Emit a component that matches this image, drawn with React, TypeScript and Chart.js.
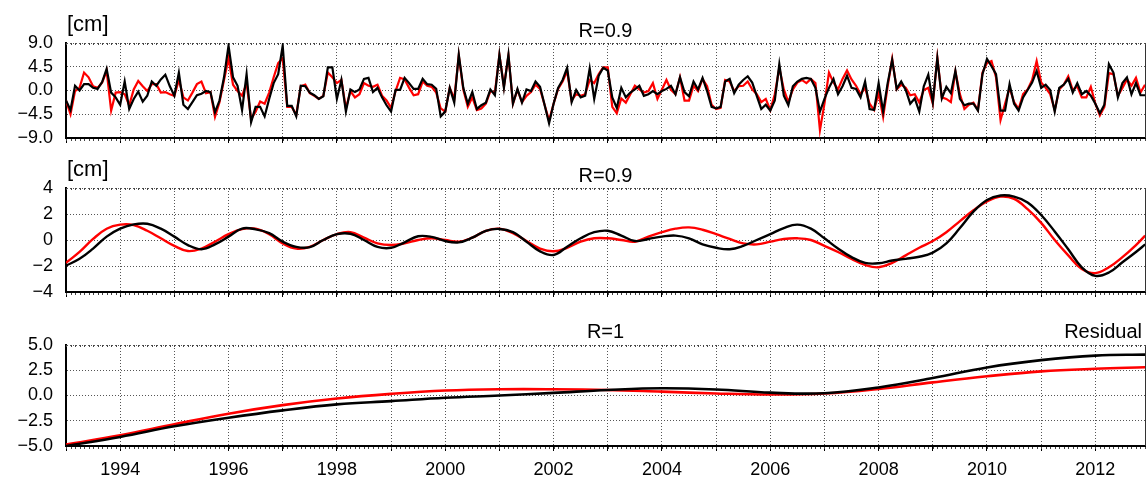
import React, { useEffect, useRef } from 'react';
import { Chart, registerables } from 'chart.js';

Chart.register(...registerables);

const FONT = '"Liberation Sans", Arial, Helvetica, sans-serif';
Chart.defaults.font.family = FONT;

// ---------- time axis ----------
const X_MIN = 1993;
const X_MAX = 2012 + 11 / 12;
const yearTicks = [1993, 1994, 1995, 1996, 1997, 1998, 1999, 2000, 2001, 2002, 2003, 2004, 2005, 2006, 2007, 2008, 2009, 2010, 2011, 2012];

// ---------- panel 1: monthly anomalies [cm] ----------
const topBlack = [
  -1.9, -3.7, 0.9, 0.0, 1.2, 1.2, 0.5, 0.3, 1.6, 4.1, -0.4, -1.3,
  -2.7, 1.7, -3.5, -1.6, -0.2, -2.1, -1.0, 1.7, 0.9, 2.1, 3.0, 0.8,
  -1.0, 3.4, -2.7, -3.5, -2.2, -0.9, -0.6, -0.1, -0.3, -4.1, -1.9, 2.5,
  8.5, 2.5, 0.9, -3.7, 3.1, -6.0, -3.1, -3.1, -4.9, -1.6, 1.4, 3.1,
  8.5, -2.9, -2.9, -4.9, 0.9, 0.8, -0.4, -0.9, -1.6, -1.1, 4.4, 4.4,
  -1.6, 2.0, -4.0, 0.2, -0.3, 0.2, 2.2, 2.4, -0.3, 0.5, -1.3, -2.8,
  -4.0, 0.1, 0.1, 2.4, 1.4, 0.3, 0.3, 2.2, 1.2, 1.1, 0.3, -4.9,
  -4.0, 0.5, -2.3, 6.8, 0.5, -2.5, -0.3, -3.5, -2.8, -2.3, 0.2, -0.9,
  6.8, 0.5, 6.8, -2.5, 0.3, -2.3, 0.2, -0.1, 1.7, 0.7, -2.7, -6.2,
  -2.5, 0.5, 2.0, 4.3, -2.2, 0.1, -1.3, -1.0, 4.2, -1.6, 2.8, 4.3,
  3.8, -1.3, -3.3, 0.5, -1.3, -0.4, 0.2, 0.9, -1.0, -0.7, -0.1, -0.7,
  -0.1, 0.3, 0.9, -0.7, 2.5, -0.3, -1.1, 1.7, 0.2, 2.4, -0.1, -3.1,
  -3.4, -3.1, 1.7, 2.2, -0.5, 1.1, 2.0, 2.7, 1.5, -1.0, -3.5, -2.7,
  -3.8, -1.9, 5.0, -1.0, -2.8, 0.8, 1.7, 2.2, 2.4, 2.2, 0.5, -4.0,
  -1.6, 0.5, 2.2, -0.7, 0.8, 2.8, 0.5, 0.3, -1.3, 1.7, -3.5, -3.7,
  1.4, -4.0, 1.4, 5.8, 0.3, 1.7, 0.1, -2.5, -1.5, -4.0, 0.8, 3.0,
  -2.2, 6.1, -1.5, 0.7, -0.5, 3.7, -1.6, -2.8, -2.5, -2.5, -3.8, 3.1,
  6.0, 4.6, 3.1, -3.8, -3.8, 1.2, -2.5, -3.8, -1.3, 0.1, 1.5, 3.7,
  0.5, 1.1, 0.1, -4.0, 0.5, 1.1, 2.2, -0.4, 1.4, -0.7, -0.1, -1.0,
  -2.5, -4.3, -2.7, 5.0, 3.4, -1.3, 1.4, 2.5, -0.7, 1.4, -0.9, -0.9,
];
const topRed = [
  -1.9, -4.5, -0.1, 0.5, 3.4, 2.5, 0.8, 0.5, 1.5, 3.7, -3.8, -0.4,
  -0.3, -0.7, -2.8, 0.2, 1.8, 0.8, -0.1, 1.2, 1.2, -0.4, -0.3, -0.7,
  -1.0, 2.0, -1.3, -1.9, -0.4, 1.2, 1.7, -0.5, -0.3, -5.0, -2.2, 2.0,
  6.1, 1.1, -0.1, -1.0, 1.4, -5.4, -4.0, -2.1, -2.5, -0.4, 2.5, 5.2,
  6.1, -3.1, -3.1, -4.6, 0.8, 1.1, -0.5, -1.0, -1.6, -1.0, 3.4, 2.5,
  1.4, 2.0, -3.4, -0.1, -1.3, -0.7, 1.4, 0.9, 0.7, 1.1, -1.0, -1.9,
  -3.3, -0.1, 2.4, 2.1, 0.5, -0.9, -0.7, 1.7, 0.9, 0.7, -0.4, -3.4,
  -4.0, 0.5, -1.6, 6.6, 0.2, -3.1, -1.3, -3.7, -3.4, -2.5, -0.1, -0.4,
  6.7, 0.8, 6.6, -2.5, 0.1, -2.2, -1.0, -0.3, 1.1, 0.3, -2.7, -5.7,
  -2.5, 0.3, 1.7, 3.7, -1.9, -0.7, -1.0, -0.7, 2.0, 1.4, 3.1, 4.4,
  4.4, -3.1, -4.3, -1.5, -2.3, -0.7, 0.9, 0.2, -0.4, -0.1, 1.4, -1.6,
  0.2, 2.0, 0.1, -0.7, 2.5, -1.9, -1.9, 0.9, -0.1, 2.2, 0.8, -2.7,
  -3.5, -3.3, 2.0, 1.7, -0.1, 0.8, 0.9, 1.7, 0.2, -0.7, -2.2, -1.6,
  -3.7, -0.7, 4.3, 0.2, -2.2, 0.2, 1.5, 2.0, 1.4, 2.2, 1.4, -7.5,
  -2.5, 3.4, 1.5, 0.2, 2.2, 3.8, 2.1, 0.9, -0.7, 0.5, -2.5, -3.7,
  -0.5, -5.0, 0.8, 6.0, 0.2, 1.1, 0.5, -0.9, -0.7, -2.3, 0.1, 0.5,
  -2.5, 6.2, -1.3, -1.6, -2.2, 3.6, -0.7, -3.5, -2.7, -2.3, -3.7, 3.4,
  5.2, 5.6, 2.5, -5.6, -2.5, 0.5, -2.2, -3.5, -0.7, 0.2, 2.0, 5.6,
  1.5, 0.5, -0.7, -3.7, 0.2, 1.1, 2.7, 0.1, 0.8, -1.3, -1.3, 0.7,
  -2.5, -4.7, -3.1, 3.3, 3.1, -1.0, 0.5, 2.1, 0.9, 2.4, -0.4, 1.1,
];
const monthX = topBlack.map((_, i) => X_MIN + i / 12);

// ---------- panel 2: low-frequency component [cm] ----------
const midX = [
  1993, 1993.25, 1993.5, 1993.75, 1994, 1994.25, 1994.5, 1994.75,
  1995, 1995.25, 1995.5, 1995.75, 1996, 1996.25, 1996.5, 1996.75,
  1997, 1997.25, 1997.5, 1997.75, 1998, 1998.25, 1998.5, 1998.75,
  1999, 1999.25, 1999.5, 1999.75, 2000, 2000.25, 2000.5, 2000.75,
  2001, 2001.25, 2001.5, 2001.75, 2002, 2002.25, 2002.5, 2002.75,
  2003, 2003.25, 2003.5, 2003.75, 2004, 2004.25, 2004.5, 2004.75,
  2005, 2005.25, 2005.5, 2005.75, 2006, 2006.25, 2006.5, 2006.75,
  2007, 2007.25, 2007.5, 2007.75, 2008, 2008.25, 2008.5, 2008.75,
  2009, 2009.25, 2009.5, 2009.75, 2010, 2010.25, 2010.5, 2010.75,
  2011, 2011.25, 2011.5, 2011.75, 2012, 2012.25, 2012.5, 2012.75, 2012.92,
];
const midBlack = [
  -1.97, -1.45, -0.66, 0.26, 0.87, 1.2, 1.25, 0.87,
  0.26, -0.39, -0.71, -0.34, 0.26, 0.88, 0.82, 0.53,
  -0.13, -0.53, -0.55, 0.0, 0.45, 0.48, 0.0, -0.53,
  -0.6, -0.18, 0.29, 0.24, -0.08, -0.18, 0.18, 0.71,
  0.85, 0.6, -0.13, -0.87, -1.15, -0.52, 0.13, 0.6,
  0.71, 0.34, -0.08, 0.08, 0.26, 0.34, 0.13, -0.34,
  -0.6, -0.71, -0.45, 0.0, 0.45, 0.92, 1.18, 0.87,
  0.13, -0.66, -1.32, -1.76, -1.79, -1.58, -1.45, -1.29,
  -0.97, -0.26, 0.92, 2.18, 3.08, 3.42, 3.34, 2.89,
  1.92, 0.66, -0.71, -2.1, -2.76, -2.5, -1.71, -0.92, -0.34,
];
const midRed = [
  -1.76, -0.92, 0.08, 0.87, 1.18, 1.15, 0.71, 0.13,
  -0.45, -0.85, -0.66, -0.13, 0.45, 0.84, 0.88, 0.45,
  -0.26, -0.66, -0.53, 0.0, 0.45, 0.6, 0.18, -0.26,
  -0.39, -0.26, 0.0, 0.13, 0.0, -0.13, 0.18, 0.71,
  0.87, 0.53, -0.08, -0.66, -0.87, -0.6, -0.13, 0.13,
  0.13, 0.0, -0.13, 0.26, 0.6, 0.87, 0.97, 0.79,
  0.45, 0.08, -0.26, -0.34, -0.13, 0.08, 0.13, 0.0,
  -0.45, -0.92, -1.45, -1.92, -2.1, -1.76, -1.18, -0.6,
  -0.08, 0.6, 1.45, 2.29, 2.97, 3.34, 3.16, 2.37,
  1.32, 0.0, -1.18, -2.24, -2.55, -2.1, -1.32, -0.39, 0.34,
];

// ---------- panel 3: residual ----------
const resX = [1993, 1994, 1995, 1996, 1997, 1998, 1999, 2000, 2001, 2002, 2003, 2004, 2005, 2006, 2007, 2008, 2009, 2010, 2011, 2012, 2012.92];
const resBlack = [-5.0, -4.1, -3.05, -2.2, -1.47, -0.88, -0.56, -0.23, 0.0, 0.26, 0.55, 0.72, 0.6, 0.28, 0.22, 0.8, 1.73, 2.78, 3.5, 3.95, 4.05];
const resRed = [-4.87, -3.95, -2.85, -1.8, -0.95, -0.3, 0.16, 0.49, 0.62, 0.62, 0.55, 0.38, 0.2, 0.1, 0.2, 0.65, 1.3, 1.9, 2.39, 2.65, 2.8];

// ---------- tick values & texts ----------
const topYTicks = [-9, -4.5, 0, 4.5, 9];
const midYTicks = [-4, -2, 0, 2, 4];
const resYTicks = [-5, -2.5, 0, 2.5, 5];
const topTitle = 'R=0.9';
const midTitle = 'R=0.9';
const resTitle = 'R=1';
const unitLabel = '[cm]';
const residualLabel = 'Residual';

type TextItem = { text: string; anchor: 'left' | 'center' | 'right'; dx: number; dy: number; align: CanvasTextAlign; size: number };

const textPlugin = {
  id: 'panelText',
  afterDraw(chart: any, _args: any, opts: any) {
    const { ctx, chartArea } = chart;
    const items: TextItem[] = (opts && opts.items) || [];
    items.forEach((it) => {
      ctx.save();
      ctx.font = `${it.size}px ${FONT}`;
      ctx.fillStyle = '#000';
      ctx.textAlign = it.align;
      ctx.textBaseline = 'middle';
      let x = chartArea.left;
      if (it.anchor === 'center') x = (chartArea.left + chartArea.right) / 2;
      if (it.anchor === 'right') x = chartArea.right;
      ctx.fillText(it.text, x + it.dx, chartArea.top + it.dy);
      ctx.restore();
    });
  },
};

const framePlugin = {
  id: 'frame',
  afterDraw(chart: any) {
    const { ctx, chartArea } = chart;
    const xs = chart.scales.x;
    ctx.save();
    // right border
    ctx.strokeStyle = '#333';
    ctx.lineWidth = 1;
    ctx.beginPath();
    ctx.moveTo(chartArea.right + 0.5, chartArea.top);
    ctx.lineTo(chartArea.right + 0.5, chartArea.bottom);
    ctx.stroke();
    // monthly minor ticks (bottom outward, top inward)
    ctx.strokeStyle = '#444';
    ctx.beginPath();
    for (let i = 0; i < monthX.length; i++) {
      const px = Math.round(xs.getPixelForValue(monthX[i])) + 0.5;
      ctx.moveTo(px, chartArea.bottom + 1);
      ctx.lineTo(px, chartArea.bottom + 3);
      ctx.moveTo(px, chartArea.top);
      ctx.lineTo(px, chartArea.top + 2);
    }
    ctx.stroke();
    ctx.restore();
  },
};

const fmt = (v: number, d: number) => (v < 0 ? '\u2212' : '') + Math.abs(v).toFixed(d);

type PanelCfg = {
  xs: number[];
  black: number[];
  red: number[];
  yMin: number;
  yMax: number;
  yTicks: number[];
  decimals: number;
  padTop: number;
  xHeight: number;
  showX: boolean;
  tension: number;
  lineWidth: number;
  texts: TextItem[];
};

function makeChart(canvas: HTMLCanvasElement, cfg: PanelCfg) {
  const tickFont = { size: 18, family: FONT };
  return new Chart(canvas, {
    type: 'line',
    data: {
      datasets: [
        {
          data: cfg.xs.map((x, i) => ({ x, y: cfg.black[i] })),
          borderColor: '#000000',
          borderWidth: cfg.lineWidth,
          pointRadius: 0,
          tension: cfg.tension,
          fill: false,
        },
        {
          data: cfg.xs.map((x, i) => ({ x, y: cfg.red[i] })),
          borderColor: '#ff0000',
          borderWidth: cfg.lineWidth,
          pointRadius: 0,
          tension: cfg.tension,
          fill: false,
        },
      ],
    },
    options: {
      responsive: false,
      animation: false,
      events: [],
      layout: { padding: { top: cfg.padTop, left: 0, right: 2, bottom: 0 } },
      plugins: {
        legend: { display: false },
        tooltip: { enabled: false },
        title: { display: false },
        // @ts-ignore
        panelText: { items: cfg.texts },
      },
      scales: {
        x: {
          type: 'linear',
          min: X_MIN,
          max: X_MAX,
          afterBuildTicks: (s: any) => {
            s.ticks = yearTicks.map((v) => ({ value: v }));
          },
          afterFit: (s: any) => {
            s.height = cfg.xHeight;
            s.paddingLeft = 0;
            s.paddingRight = 0;
          },
          ticks: {
            display: cfg.showX,
            autoSkip: false,
            maxRotation: 0,
            padding: 8,
            color: '#000',
            font: tickFont,
            callback: (v: any) => (Number(v) % 2 === 0 ? String(v) : ''),
          },
          grid: { color: '#555', lineWidth: 1, tickLength: 5, tickColor: '#000', tickWidth: 1 },
          border: { display: true, color: '#000', width: 2, dash: [1, 2] },
        },
        y: {
          type: 'linear',
          min: cfg.yMin,
          max: cfg.yMax,
          afterBuildTicks: (s: any) => {
            s.ticks = cfg.yTicks.map((v) => ({ value: v }));
          },
          afterFit: (s: any) => {
            s.width = 66;
            s.paddingTop = 0;
            s.paddingBottom = 0;
          },
          ticks: {
            autoSkip: false,
            padding: 8,
            color: '#000',
            font: tickFont,
            callback: (v: any) => fmt(Number(v), cfg.decimals),
          },
          grid: { color: '#555', lineWidth: 1, tickLength: 5, tickColor: 'rgba(0,0,0,0)' },
          border: { display: true, color: '#000', width: 2, dash: [1, 2] },
        },
      },
    } as any,
    plugins: [textPlugin, framePlugin],
  });
}

export default function App() {
  const c1 = useRef<HTMLCanvasElement>(null);
  const c2 = useRef<HTMLCanvasElement>(null);
  const c3 = useRef<HTMLCanvasElement>(null);

  useEffect(() => {
    if (!c1.current || !c2.current || !c3.current) return;
    const charts = [
      makeChart(c1.current, {
        xs: monthX, black: topBlack, red: topRed,
        yMin: -9, yMax: 9, yTicks: topYTicks, decimals: 1,
        padTop: 43, xHeight: 22, showX: false, tension: 0, lineWidth: 2.2,
        texts: [
          { text: unitLabel, anchor: 'left', dx: 1, dy: -18, align: 'left', size: 22 },
          { text: topTitle, anchor: 'center', dx: 0, dy: -12, align: 'center', size: 20 },
        ],
      }),
      makeChart(c2.current, {
        xs: midX, black: midBlack, red: midRed,
        yMin: -4, yMax: 4, yTicks: midYTicks, decimals: 0,
        padTop: 38, xHeight: 18, showX: false, tension: 0.4, lineWidth: 2.4,
        texts: [
          { text: unitLabel, anchor: 'left', dx: 1, dy: -18, align: 'left', size: 22 },
          { text: midTitle, anchor: 'center', dx: 0, dy: -12, align: 'center', size: 20 },
        ],
      }),
      makeChart(c3.current, {
        xs: resX, black: resBlack, red: resRed,
        yMin: -5, yMax: 5, yTicks: resYTicks, decimals: 1,
        padTop: 35, xHeight: 37, showX: true, tension: 0.4, lineWidth: 2.6,
        texts: [
          { text: resTitle, anchor: 'center', dx: 0, dy: -13, align: 'center', size: 20 },
          { text: residualLabel, anchor: 'right', dx: -3, dy: -13, align: 'right', size: 20 },
        ],
      }),
    ];
    return () => charts.forEach((c) => c.destroy());
  }, []);

  return (
    <div style={{ position: 'absolute', left: 0, top: 0, width: 1147, height: 483, background: '#fff' }}>
      <canvas ref={c1} width={1147} height={160} style={{ position: 'absolute', left: 0, top: 0 }} />
      <canvas ref={c2} width={1147} height={160} style={{ position: 'absolute', left: 0, top: 150 }} />
      <canvas ref={c3} width={1147} height={173} style={{ position: 'absolute', left: 0, top: 310 }} />
    </div>
  );
}
